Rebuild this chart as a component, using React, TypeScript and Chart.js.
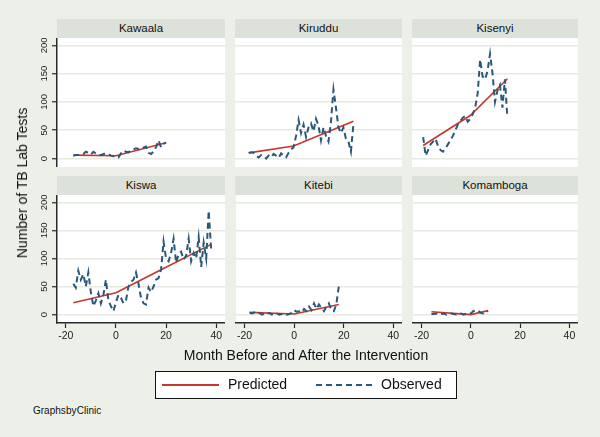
import React, { useEffect, useRef } from "react";
import { Chart, registerables } from "chart.js";
Chart.register(...registerables);

const FONT = "'Liberation Sans', Arial, Helvetica, sans-serif";

const clinicNames = ["Kawaala", "Kiruddu", "Kisenyi", "Kiswa", "Kitebi", "Komamboga"];
const yTickValues = [0, 50, 100, 150, 200];
const xTickValues = [-20, 0, 20, 40];
const legendLabels = ["Predicted", "Observed"];

// first observed month for each clinic (months run consecutively from here)
const firstMonths = [-17, -18, -19, -17, -18, -16];

const kawaalaObserved = [5, 6, 6, 7, 8, 12, 10, 7, 12, 9, 7, 6, 8, 9, 8, 5, 4, 4, 2, 9, 14, 12, 11, 15, 16, 18, 17, 20, 19, 21, 10, 8, 12, 20, 32, 20, 26, 28];
const kiruddu_Observed = [10, 11, 10, 5, 2, 6, 4, 0, 5, 2, 8, 5, 1, 9, 5, 2, 10, 16, 20, 40, 68, 45, 60, 38, 55, 62, 48, 70, 58, 32, 55, 40, 30, 65, 122, 90, 55, 45, 55, 35, 30, 12, 60];
const kisenyiObserved = [38, 5, 15, 25, 30, 35, 22, 15, 12, 18, 25, 32, 40, 50, 60, 66, 72, 75, 65, 70, 78, 90, 115, 175, 145, 140, 155, 185, 150, 100, 120, 130, 90, 140, 72];
const kiswaObserved = [55, 48, 78, 62, 72, 50, 75, 40, 15, 25, 38, 20, 35, 62, 25, 15, 6, 22, 35, 30, 20, 25, 50, 58, 62, 75, 55, 30, 20, 18, 48, 40, 50, 62, 65, 80, 130, 100, 95, 110, 135, 92, 108, 112, 98, 105, 135, 95, 110, 100, 138, 85, 128, 100, 185, 115];
const kitebiObserved = [3, 2, 4, 1, 3, 0, 2, 1, 3, 0, 1, 2, 0, 1, 2, 0, 1, 3, 8, 5, 6, 4, 10, 6, 14, 8, 20, 10, 18, 12, 6, 14, 20, 8, 6, 18, 50];
const komambogaObserved = [1, 1, 2, 0, 1, 2, 0, 1, 2, 1, 0, 1, 2, 0, 1, 0, 2, 6, 8, 7, 3, 2, 4, 6];

const kawaalaPredMonths = [-17, 0, 20];
const kawaalaPredicted = [6, 5, 28];
const kirudduPredMonths = [-18, 0, 24];
const kirudduPredicted = [10, 22, 66];
const kisenyiPredMonths = [-19, 0, 15];
const kisenyiPredicted = [23, 76, 141];
const kiswaPredMonths = [-17, 0, 18, 38];
const kiswaPredicted = [21, 39, 80, 125];
const kitebiPredMonths = [-18, 0, 18];
const kitebiPredicted = [4, 1, 18];
const komambogaPredMonths = [-16, 0, 7];
const komambogaPredicted = [5, 0, 7];

const observedSeries = [kawaalaObserved, kiruddu_Observed, kisenyiObserved, kiswaObserved, kitebiObserved, komambogaObserved];
const predMonthSeries = [kawaalaPredMonths, kirudduPredMonths, kisenyiPredMonths, kiswaPredMonths, kitebiPredMonths, komambogaPredMonths];
const predictedSeries = [kawaalaPredicted, kirudduPredicted, kisenyiPredicted, kiswaPredicted, kitebiPredicted, komambogaPredicted];

const RED = "#C8372E";
const BLUE = "#2A5878";
const BG = "#EDF0E9";
const STRIP = "#DCE1DA";
const GRID = "#E6EAE1";
const AXIS = "#2a2a2a";

const COL_LEFT = [57, 235, 412];
const COL_W = [168, 167, 166];
const ROW_TOP = [38, 195];
const PLOT_H = [129, 128];
const STRIP_H = 19;
const Y_AXIS_W = 50;
const X_AXIS_H = 26;

const plotBgPlugin = {
  id: "plotBg",
  beforeDraw(chart: any) {
    const { ctx, chartArea } = chart;
    ctx.save();
    ctx.fillStyle = "#ffffff";
    ctx.fillRect(chartArea.left, chartArea.top, chartArea.right - chartArea.left, chartArea.bottom - chartArea.top);
    ctx.restore();
  },
};

const rotYPlugin = {
  id: "rotY",
  afterDraw(chart: any, _args: any, opts: any) {
    if (!opts || !opts.show) return;
    const s = chart.scales.y;
    const ctx = chart.ctx;
    ctx.save();
    ctx.font = `9.5px ${FONT}`;
    ctx.fillStyle = "#222";
    ctx.textAlign = "center";
    ctx.textBaseline = "middle";
    for (const v of yTickValues) {
      const py = s.getPixelForValue(v);
      ctx.save();
      ctx.translate(chart.chartArea.left - 13, py);
      ctx.rotate(-Math.PI / 2);
      ctx.fillText(String(v), 0, 0);
      ctx.restore();
    }
    ctx.restore();
  },
};

function Panel({ index }: { index: number }) {
  const ref = useRef<HTMLCanvasElement>(null);
  const row = Math.floor(index / 3);
  const col = index % 3;
  const showY = col === 0;
  const showX = row === 1;
  const left = COL_LEFT[col] - (showY ? Y_AXIS_W : 0);
  const top = ROW_TOP[row];
  const w = COL_W[col] + (showY ? Y_AXIS_W : 0);
  const h = PLOT_H[row] + (showX ? X_AXIS_H : 0);

  useEffect(() => {
    const obs = observedSeries[index].map((v, i) => ({ x: firstMonths[index] + i, y: v }));
    const pred = predMonthSeries[index].map((m, i) => ({ x: m, y: predictedSeries[index][i] }));
    const chart = new Chart(ref.current as HTMLCanvasElement, {
      type: "line",
      data: {
        datasets: [
          { label: legendLabels[1], data: obs, borderColor: BLUE, borderWidth: 2, borderDash: [6, 4], pointRadius: 0, tension: 0, order: 1 },
          { label: legendLabels[0], data: pred, borderColor: RED, borderWidth: 1.6, pointRadius: 0, tension: 0, order: 2 },
        ],
      },
      options: {
        responsive: false,
        animation: false,
        devicePixelRatio: 1,
        layout: { padding: 0 },
        events: [],
        plugins: { legend: { display: false }, tooltip: { enabled: false }, rotY: { show: showY } } as any,
        scales: {
          x: {
            type: "linear",
            min: -23.5,
            max: 43.5,
            display: showX,
            afterBuildTicks: (s: any) => { s.ticks = xTickValues.map((v) => ({ value: v })); },
            afterFit: (s: any) => { if (showX) s.height = X_AXIS_H; },
            grid: { drawOnChartArea: false, drawTicks: true, tickLength: 5, tickColor: AXIS, tickWidth: 1.2 },
            border: { display: true, color: AXIS, width: 1.5 },
            ticks: { font: { family: FONT, size: 10.5 }, color: "#222", padding: 2, maxRotation: 0, autoSkip: false },
          },
          y: {
            type: "linear",
            min: -15,
            max: 213,
            afterBuildTicks: (s: any) => { s.ticks = yTickValues.map((v) => ({ value: v })); },
            afterFit: (s: any) => { s.width = showY ? Y_AXIS_W : 0; },
            grid: { color: GRID, lineWidth: 1.5, drawTicks: showY, tickLength: 5, tickColor: AXIS, tickWidth: 1.2 },
            border: { display: showY, color: AXIS, width: 1.5 },
            ticks: { display: false },
          },
        },
      } as any,
      plugins: [plotBgPlugin, rotYPlugin],
    });
    return () => chart.destroy();
  }, []);

  return (
    <>
      <div
        style={{
          position: "absolute",
          left: COL_LEFT[col],
          top: top - STRIP_H,
          width: COL_W[col],
          height: STRIP_H,
          background: STRIP,
          fontFamily: FONT,
          fontSize: 11.5,
          color: "#111",
          textAlign: "center",
          lineHeight: `${STRIP_H}px`,
        }}
      >
        {clinicNames[index]}
      </div>
      <canvas ref={ref} width={w} height={h} style={{ position: "absolute", left, top, width: w, height: h }} />
    </>
  );
}

export default function App() {
  return (
    <div style={{ position: "absolute", left: 0, top: 0, width: 600, height: 437, background: BG, overflow: "hidden", fontFamily: FONT }}>
      {clinicNames.map((_, i) => (
        <Panel key={i} index={i} />
      ))}
      <div
        style={{
          position: "absolute",
          left: 22,
          top: 183,
          transform: "translate(-50%, -50%) rotate(-90deg)",
          whiteSpace: "nowrap",
          fontSize: 14,
          color: "#111",
        }}
      >
        Number of TB Lab Tests
      </div>
      <div
        style={{
          position: "absolute",
          left: 306,
          top: 355,
          transform: "translate(-50%, -50%)",
          whiteSpace: "nowrap",
          fontSize: 14,
          color: "#111",
        }}
      >
        Month Before and After the Intervention
      </div>
      <div
        style={{
          position: "absolute",
          left: 155,
          top: 371,
          width: 302,
          height: 28,
          boxSizing: "border-box",
          border: "1.5px solid #111",
          background: "#fff",
        }}
      >
        <svg width={60} height={10} style={{ position: "absolute", left: 6, top: 8 }}>
          <line x1={0} y1={5} x2={57} y2={5} stroke={RED} strokeWidth={1.8} />
        </svg>
        <div style={{ position: "absolute", left: 72, top: 0, lineHeight: "25px", fontSize: 14, color: "#111" }}>{legendLabels[0]}</div>
        <svg width={60} height={10} style={{ position: "absolute", left: 160, top: 8 }}>
          <line x1={0} y1={5} x2={56} y2={5} stroke={BLUE} strokeWidth={1.8} strokeDasharray="6 4" />
        </svg>
        <div style={{ position: "absolute", left: 225, top: 0, lineHeight: "25px", fontSize: 14, color: "#111" }}>{legendLabels[1]}</div>
      </div>
      <div style={{ position: "absolute", left: 33, top: 405, fontSize: 10, color: "#111", wordSpacing: "-2.6px", whiteSpace: "nowrap" }}>
        Graphs by Clinic
      </div>
    </div>
  );
}
